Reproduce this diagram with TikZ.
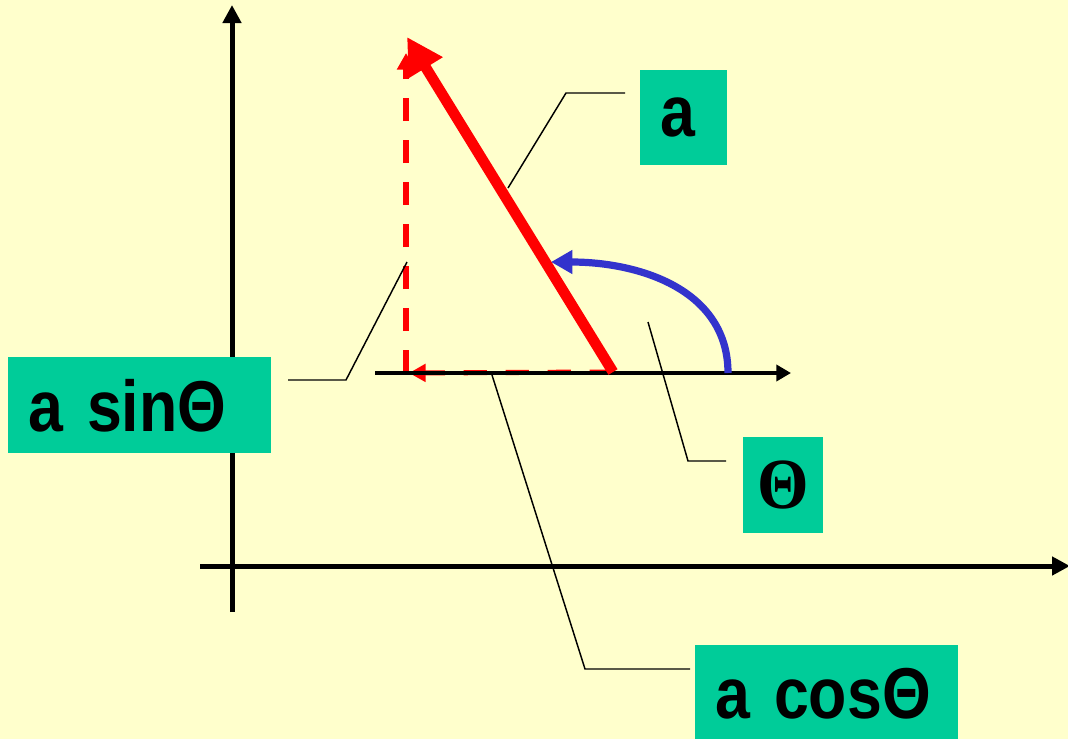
\documentclass[tikz,border=0pt]{standalone}
\usepackage{fontspec}
\setmainfont[FakeStretch=0.87]{Liberation Sans}
\newfontfamily\thetafont[FakeStretch=0.92]{Liberation Serif}
\usetikzlibrary{arrows.meta}
\definecolor{BG}{RGB}{255,255,204}
\definecolor{LBL}{RGB}{0,204,153}
\definecolor{CR}{RGB}{255,0,0}
\definecolor{CBl}{RGB}{51,51,204}
\begin{document}
\begin{tikzpicture}[x=0.75pt, y=-0.75pt,
  axis/.style={line width=3.75pt, -{Triangle[length=13.5pt,width=13.5pt]}},
  subaxis/.style={line width=3.2pt, -{Triangle[length=11pt,width=12pt]}},
  vec/.style={draw=CR, line width=8pt, -{Triangle[length=27pt,width=28pt]}},
  comp/.style={draw=CR, line width=3.8pt, dash pattern=on 17.5pt off 14pt,
               -{Triangle[length=12.5pt,width=13pt]}},
  ang/.style={draw=CBl, line width=5.4pt, -{Triangle[length=16pt,width=17pt]}},
  lead/.style={line width=1.1pt},
  lbl/.style={fill=LBL, anchor=north west, inner sep=0pt, inner xsep=15pt,
              minimum height=71pt, align=left,
              font=\fontsize{54}{60}\selectfont\bfseries}
]
% background
\fill[BG] (0,0) rectangle (1068,739);
\useasboundingbox (0,0) rectangle (1068,739);

% main axes
\coordinate (yb) at (232,612);
\coordinate (yt) at (232,5);
\coordinate (xl) at (200,566);
\coordinate (xr) at (1070,566);
\draw[axis] (yb) -- (yt);
\draw[axis] (xl) -- (xr);

% vector and components
\coordinate (tail) at (613,372);
\coordinate (tip)  at (407,37);
\coordinate (foot) at (406,373);
\coordinate (vtop) at (406,53);
\coordinate (htip) at (409,373);
\draw[comp] (foot) -- (vtop);
\draw[comp] (tail) -- (htip);
\coordinate (ul) at (375,373);
\coordinate (ur) at (791,373);
\draw[subaxis] (ul) -- (ur);
\draw[vec] (tail) -- (tip);

% angle
\coordinate (arcS) at (728,373);
\coordinate (arcE) at (551,262);
\draw[ang] (arcS) .. controls (728,290) and (640,262) .. (arcE);

% labels
\node[lbl, text width=35pt] (la) at (640,70) {a};
\node[lbl, text width=167pt, minimum height=72pt] (lsin) at (8,357) {a sinΘ};
\node[lbl, inner xsep=0pt, text width=60pt, align=center, minimum height=72pt,
      font=\fontsize{54}{60}\selectfont\bfseries\thetafont] (lth) at (743,437) {Θ};
\node[lbl, text width=167pt, minimum height=72pt] (lcos) at (695,645) {a cosΘ};

% leader lines
\coordinate (a1) at (625,93);  \coordinate (a2) at (566,93);  \coordinate (a3) at (508,188);
\coordinate (s1) at (288,380); \coordinate (s2) at (346,380); \coordinate (s3) at (407,262);
\coordinate (t1) at (726,461); \coordinate (t2) at (688,461); \coordinate (t3) at (648,322);
\coordinate (c1) at (690,669); \coordinate (c2) at (585,669); \coordinate (c3) at (492,375);
\draw[lead] (a1) -- (a2) -- (a3);
\draw[lead] (s1) -- (s2) -- (s3);
\draw[lead] (t1) -- (t2) -- (t3);
\draw[lead] (c1) -- (c2) -- (c3);
\end{tikzpicture}
\end{document}
